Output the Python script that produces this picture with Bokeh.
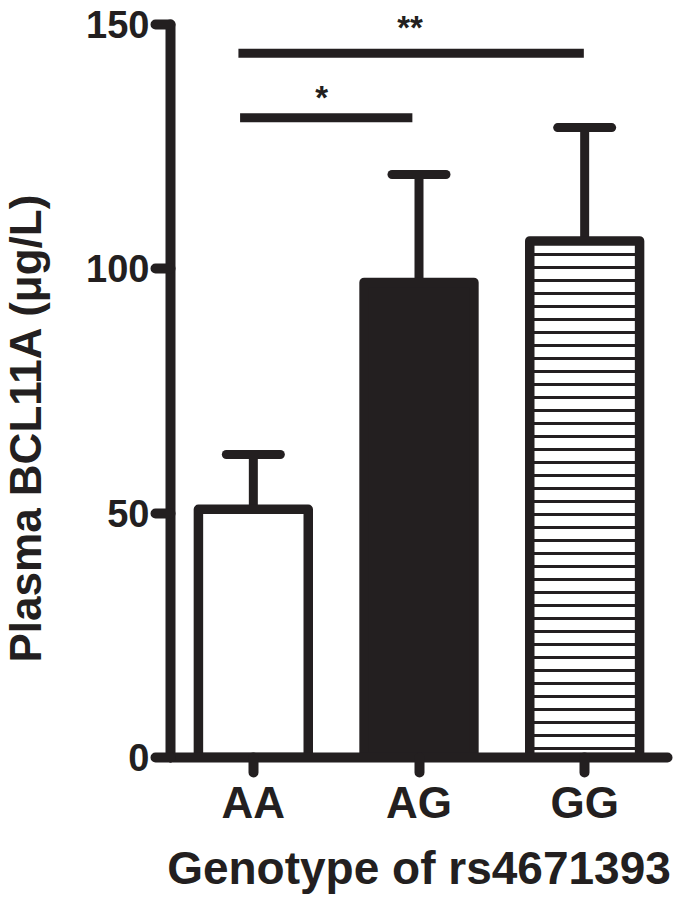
from bokeh.plotting import figure
from bokeh.models import FactorRange, Range1d, FixedTicker, Title, ColumnDataSource
from bokeh.transform import dodge
from bokeh.core.properties import value
from bokeh.embed import file_html
from bokeh.resources import INLINE

# ---- data ----
genotypes = ["AA", "AG", "GG"]
means = [50.8, 97.2, 105.7]
upper = [62.0, 119.3, 128.9]
fills = ["white", "#231f20", "white"]
hatches = ["blank", "blank", "horizontal_line"]
y_ticks = [0, 50, 100, 150]

sig_x0 = [0.42, 0.41]
sig_x1 = [1.46, 2.495]
sig_y = [130.9, 144.1]
star_x = [0.912, 1.446]
star_y = [135.0, 149.4]
star_text = ["*", "**"]

INK = "#231f20"
FONT = "Liberation Sans"

src = ColumnDataSource(dict(x=genotypes, top=means, up=upper, fill=fills, hatch=hatches))

p = figure(width=675, height=898, x_range=FactorRange(*genotypes, range_padding=0),
           y_range=Range1d(0, 154.9), output_backend="svg", toolbar_location=None,
           min_border_left=167, min_border_right=8, min_border_top=0, min_border_bottom=141)
p.outline_line_color = None
p.xgrid.visible = False
p.ygrid.visible = False
p.background_fill_color = "white"
p.border_fill_color = "white"

# error bars (upper only)
p.segment(x0="x", y0="top", x1="x", y1="up", source=src, line_color=INK, line_width=9)
p.segment(x0=dodge("x", -0.163, range=p.x_range), y0="up",
          x1=dodge("x", 0.163, range=p.x_range), y1="up",
          source=src, line_color=INK, line_width=9, line_cap="round")

# bars
p.vbar(x="x", top="top", bottom=0, width=0.663, source=src, fill_color="fill",
       line_color=INK, line_width=9.5, line_join="round",
       hatch_pattern="hatch", hatch_color=INK, hatch_scale=13, hatch_weight=3)

# significance lines and stars
p.segment(x0=sig_x0, y0=sig_y, x1=sig_x1, y1=sig_y, line_color=INK, line_width=9)
p.text(x=star_x, y=star_y, text=star_text, text_font=value(FONT), text_font_style="bold",
       text_font_size="33px", text_align="center", text_baseline="middle", text_color=INK)

# axes
for ax in (p.xaxis[0], p.yaxis[0]):
    ax.axis_line_width = 10
    ax.axis_line_color = INK
    ax.axis_line_cap = "round"
    ax.major_tick_line_width = 10
    ax.major_tick_line_color = INK
    ax.major_tick_line_cap = "round"
    ax.major_tick_out = 15
    ax.major_tick_in = 0
    ax.minor_tick_line_color = None
    ax.major_label_text_font = FONT
    ax.major_label_text_font_style = "bold"
    ax.major_label_text_color = INK
    ax.axis_label_text_font = FONT
    ax.axis_label_text_font_style = "bold"
    ax.axis_label_text_color = INK

p.yaxis.ticker = FixedTicker(ticks=y_ticks)
p.yaxis.bounds = (0, 150)
p.yaxis.major_label_text_font_size = "38px"
p.yaxis.major_label_standoff = 6
# blank spacer label to push the title outward
p.yaxis.axis_label = " "
p.yaxis.axis_label_text_font_size = "20px"
p.yaxis.axis_label_standoff = 7

p.xaxis.major_label_text_font_size = "44px"
p.xaxis.major_label_standoff = 5
p.xaxis.axis_label = "Genotype of rs4671393"
p.xaxis.axis_label_text_font_size = "46px"
p.xaxis.axis_label_standoff = 12

ylab = Title(text="Plasma BCL11A (μg/L)", text_font=FONT, text_font_style="bold",
             text_font_size="44px", text_color=INK, align="left", offset=95,
             standoff=0, vertical_align="top")
p.add_layout(ylab, "left")

open("out.html", "w").write(file_html(p, INLINE))
